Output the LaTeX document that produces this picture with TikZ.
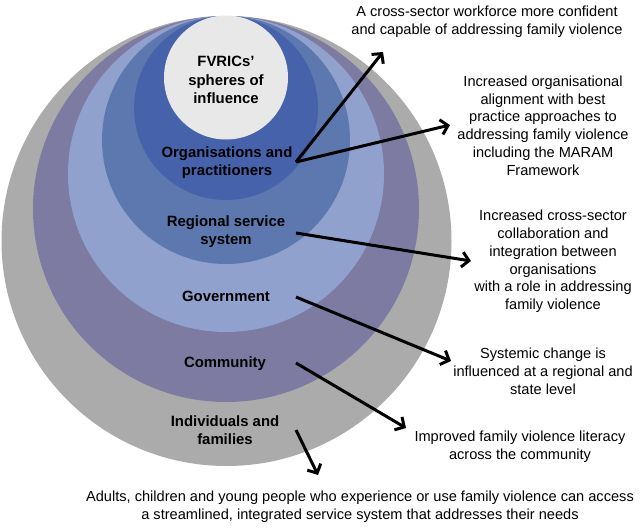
\documentclass[tikz,border=0pt]{standalone}
\usepackage{fontspec}
\setmainfont{Liberation Sans}
\usetikzlibrary{arrows.meta}
\definecolor{cgrey}{HTML}{ABABAB}
\definecolor{cpurple}{HTML}{7E7BA3}
\definecolor{clight}{HTML}{8FA1CC}
\definecolor{cmid}{HTML}{5D78AF}
\definecolor{cdark}{HTML}{4562AB}
\definecolor{cinner}{HTML}{E8E8E8}
\tikzset{
  lbl/.style={align=center, font=\fontsize{14.9}{18.5}\selectfont\bfseries, inner sep=0pt},
  outc/.style={align=center, font=\fontsize{14.6}{17.8}\selectfont, inner sep=0pt},
  arr/.style={line width=3pt, -{Straight Barb[length=7pt,width=15pt,line width=3pt]}},
}
\begin{document}
\begin{tikzpicture}[x=1pt,y=-1pt]
\useasboundingbox (0,0) rectangle (640,530);
% spheres
\fill[cgrey] (226.5,241) circle[radius=225];
\fill[cpurple] (226,209) circle[radius=193];
\fill[clight] (226,174) circle[radius=158];
\fill[cmid] (226,140) circle[radius=124];
\fill[cdark] (226,108) circle[radius=92];
\fill[cinner] (226,77.5) circle[radius=62];
% labels
\node[lbl] (l0) at (226,80) {FVRICs’\\spheres of\\influence};
\node[lbl] (l1) at (227,162.5) {Organisations and\\practitioners};
\node[lbl] (l2) at (226,231.5) {Regional service\\system};
\node[lbl] (l3) at (226,296) {Government};
\node[lbl] (l4) at (225,364) {Community};
\node[lbl] (l5) at (225,430) {Individuals and\\families};
% outcomes
\node[outc] (t1) at (487,22) {A cross-sector workforce more confident\\and capable of addressing family violence};
\node[outc] (t2) at (543,125.5) {Increased organisational\\alignment with best\\practice approaches to\\addressing family violence\\including the MARAM\\Framework};
\node[outc] (t3) at (553,261.5) {Increased cross-sector\\collaboration and\\integration between\\organisations\\with a role in addressing\\family violence};
\node[outc] (t4) at (543,371) {Systemic change is\\influenced at a regional and\\state level};
\node[outc] (t5) at (520,446.5) {Improved family violence literacy\\across the community};
\node[outc] (t6) at (360,507) {Adults, children and young people who experience or use family violence can access\\a streamlined, integrated service system that addresses their needs};
% arrow ends
\coordinate (s1) at (296,162);
\coordinate (e1) at (383,52);
\coordinate (e2) at (450,125);
\coordinate (s3) at (296,233);
\coordinate (e3) at (471,261);
\coordinate (s4) at (296,297);
\coordinate (e4) at (451,361);
\coordinate (s5) at (296,363);
\coordinate (e5) at (406,428);
\coordinate (s6) at (296,430);
\coordinate (e6) at (318,475);
\draw[arr] (s1) -- (e1);
\draw[arr] (s1) -- (e2);
\draw[arr] (s3) -- (e3);
\draw[arr] (s4) -- (e4);
\draw[arr] (s5) -- (e5);
\draw[arr] (s6) -- (e6);
\end{tikzpicture}
\end{document}
